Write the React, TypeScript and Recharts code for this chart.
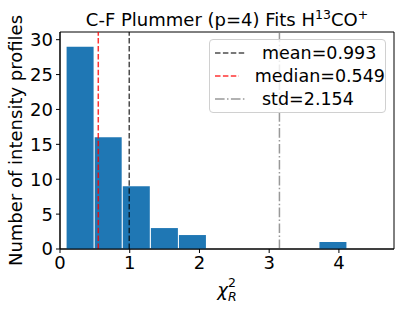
import React from "react";
import {
  ComposedChart,
  Bar,
  XAxis,
  YAxis,
  ReferenceLine,
  ReferenceArea,
} from "recharts";

// histogram of reduced chi-square values (10 bins)
const binCenters = [0.287, 0.69, 1.093, 1.496, 1.898, 2.301, 2.704, 3.107, 3.51, 3.913];
const binCounts = [29, 16, 9, 3, 2, 0, 0, 0, 0, 1];
const xTicks = [0, 1, 2, 3, 4];
const yTicks = [0, 5, 10, 15, 20, 25, 30];
const meanValue = 0.993;
const medianValue = 0.549;
const stdValue = 2.154;

const data = binCenters.map((x, i) => ({ x, count: binCounts[i] }));

const FONT = "'DejaVu Sans', sans-serif";

const legendItems = [
  { label: "mean=0.993", color: "rgba(0,0,0,0.7)", dash: "5.5 2.4" },
  { label: "median=0.549", color: "rgba(255,0,0,0.8)", dash: "5.5 2.4" },
  { label: "std=2.154", color: "rgba(128,128,128,0.8)", dash: "9.6 2.4 1.5 2.4" },
];

const XLabel = (props: any) => {
  const vb = props.viewBox || {};
  const cx = vb.x + vb.width / 2;
  return (
    <text x={cx} y={vb.y + 47} textAnchor="middle" fontFamily={FONT} fontSize={18} fill="#000">
      <tspan fontStyle="italic">χ</tspan>
      <tspan fontSize={12.5} dy={-9}>2</tspan>
      <tspan fontSize={12.5} fontStyle="italic" dx={-8} dy={14}>R</tspan>
    </text>
  );
};

const YLabel = (props: any) => {
  const vb = props.viewBox || {};
  const cy = vb.y + vb.height / 2;
  return (
    <text
      x={15}
      y={cy}
      transform={`rotate(-90, 15, ${cy})`}
      textAnchor="middle"
      dominantBaseline="central"
      fontFamily={FONT}
      fontSize={18}
      fill="#000"
    >
      Number of intensity profiles
    </text>
  );
};

export default function App() {
  return (
    <div style={{ position: "relative", width: 404, height: 310, background: "#fff", fontFamily: FONT }}>
      <style>{"body{margin:0}"}</style>

      {/* Title */}
      <div
        style={{
          position: "absolute",
          left: 60,
          width: 334,
          top: 9,
          textAlign: "center",
          fontSize: 18,
          lineHeight: "22px",
          color: "#000",
          whiteSpace: "nowrap",
        }}
      >
        C-F Plummer (p=4) Fits H
        <sup style={{ fontSize: 12.5, lineHeight: 0 }}>13</sup>
        CO
        <sup style={{ fontSize: 12.5, lineHeight: 0 }}>+</sup>
      </div>

      <ComposedChart
        width={404}
        height={310}
        data={data}
        margin={{ top: 32, right: 10, bottom: 0, left: 0 }}
        barCategoryGap={0.6}
      >
        <XAxis
          dataKey="x"
          type="number"
          domain={[0, 4.79]}
          ticks={xTicks}
          allowDataOverflow
          height={61}
          tickSize={4}
          tickMargin={3}
          tick={{ fill: "#000", fontSize: 18, fontFamily: FONT }}
          stroke="#000"
          label={<XLabel />}
        />
        <YAxis
          type="number"
          domain={[0, 31.1]}
          ticks={yTicks}
          allowDataOverflow
          width={60}
          tickSize={4}
          tickMargin={3}
          tick={{ fill: "#000", fontSize: 18, fontFamily: FONT }}
          stroke="#000"
          label={<YLabel />}
        />
        <Bar dataKey="count" fill="#1f77b4" isAnimationActive={false} />
        <ReferenceLine
          x={meanValue}
          stroke="#000"
          strokeOpacity={0.7}
          strokeWidth={1.5}
          strokeDasharray="5.5 2.4"
        />
        <ReferenceLine
          x={medianValue}
          stroke="#ff0000"
          strokeOpacity={0.8}
          strokeWidth={1.5}
          strokeDasharray="5.5 2.4"
        />
        <ReferenceLine
          x={meanValue + stdValue}
          stroke="#808080"
          strokeOpacity={0.8}
          strokeWidth={1.5}
          strokeDasharray="9.6 2.4 1.5 2.4"
        />
        {/* frame */}
        <ReferenceArea x1={0} x2={4.79} y1={0} y2={31.1} fill="none" stroke="#000" strokeWidth={1} />
      </ComposedChart>

      {/* Legend */}
      <div
        style={{
          position: "absolute",
          left: 209,
          top: 39,
          width: 177,
          height: 74,
          border: "1px solid #d0d0d0",
          borderRadius: 4,
          background: "rgba(255,255,255,0.8)",
          boxSizing: "border-box",
          padding: "1px 0 0 5px",
        }}
      >
        {legendItems.map((item) => (
          <div key={item.label} style={{ display: "flex", alignItems: "center", height: 23 }}>
            <svg width={31} height={10} style={{ marginRight: 16 }}>
              <line x1={0} y1={5} x2={31} y2={5} stroke={item.color} strokeWidth={1.5} strokeDasharray={item.dash} />
            </svg>
            <span style={{ fontSize: 17.5, color: "#000", whiteSpace: "nowrap" }}>{item.label}</span>
          </div>
        ))}
      </div>
    </div>
  );
}
